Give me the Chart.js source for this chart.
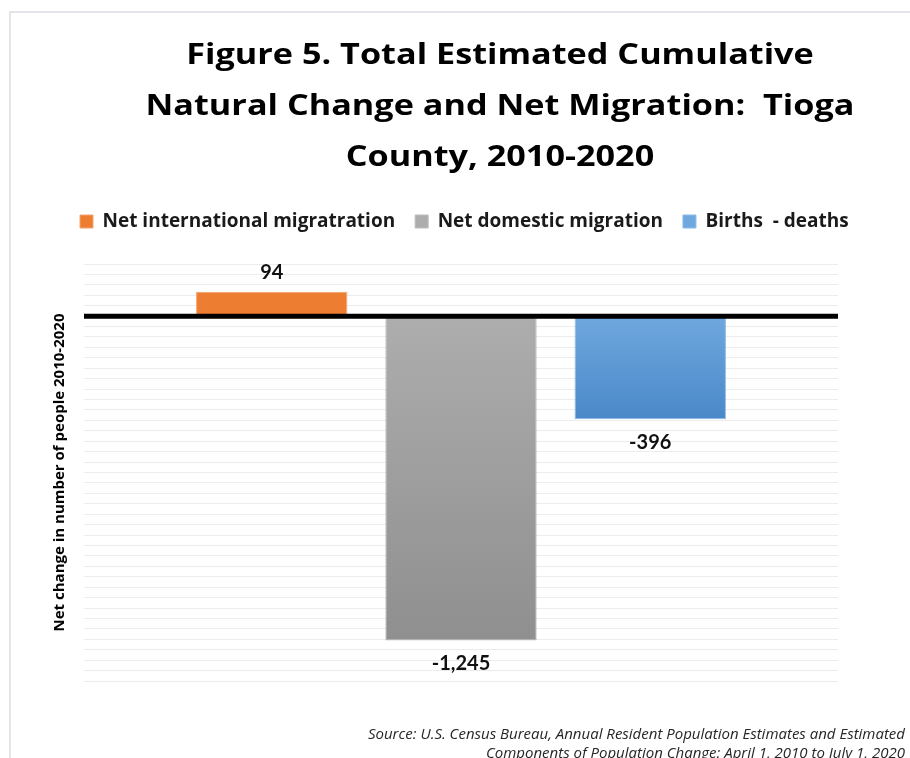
<!DOCTYPE html>
<html>
<head>
<meta charset="utf-8">
<script src="https://cdn.jsdelivr.net/npm/chart.js@4.4.0/dist/chart.umd.min.js"></script>
<style>
html,body{margin:0;padding:0;background:#fff;overflow:hidden}
#wrap{position:relative;width:910px;height:758px}
#frame{position:absolute;left:9px;top:11px;width:1000px;height:1000px;border-left:2px solid #e4e4ea;border-top:2px solid #e4e4ea}
#chart{position:absolute;left:0;top:0}
</style>
</head>
<body>
<div id="wrap"><div id="frame"></div><canvas id="chart"></canvas></div>
<script>
// ── DATA ─────────────────────────────────────────────────
const titleLines = ['Figure 5. Total Estimated Cumulative', 'Natural Change and Net Migration:  Tioga', 'County, 2010-2020'];
const categories = [''];
const seriesNames = ['Net international migratration', 'Net domestic migration', 'Births  - deaths'];
const seriesValues = [94, -1245, -396];
const yTitle = 'Net change in number of people 2010-2020';
const sourceLines = ['Source: U.S. Census Bureau, Annual Resident Population Estimates and Estimated',
                     'Components of Population Change: April 1, 2010 to July 1, 2020'];
const yMin = -1400, yMax = 200, yStep = 40;

const FONT = '"Open Sans", Lato, sans-serif';
const LABEL_FONT = 'Lato, "Open Sans", sans-serif';
const seriesFill = [['#ed7d31','#ed7d31'], ['#adadad','#8f8f8f'], ['#6fa8de','#4a88c9']];
const seriesEdge = ['#f3a472', '#bdbdbd', '#8cbbe8'];

// vertical gradient from the zero line to the bar end
function gradFill(stops){
    return ctx=>{
        const chart = ctx.chart;
        if(ctx.type!=='data' || !chart.chartArea) return stops[0];
        const y = chart.scales.y;
        const y0 = y.getPixelForValue(0), y1 = y.getPixelForValue(ctx.raw);
        const g = chart.ctx.createLinearGradient(0, Math.min(y0,y1), 0, Math.max(y0,y1));
        g.addColorStop(0, stops[0]); g.addColorStop(1, stops[1]);
        return g;
    };
}

// ── PLUGINS ──────────────────────────────────────────────
// figure title (centred on the original, wider, figure frame) + source note
const figText = {
    id:'figText',
    afterDraw(chart){
        const c = chart.ctx;
        c.save();
        c.fillStyle = '#000';
        c.textAlign = 'center'; c.textBaseline = 'alphabetic';
        c.font = 'bold 29px ' + FONT;
        titleLines.forEach((t,i)=>{
            c.save();
            c.translate(500, 64 + i*51);
            c.scale(1.18, 1);   // the original title face is wider than Open Sans
            c.fillText(t, 0, 0);
            c.restore();
        });
        c.fillStyle = '#262626';
        c.textAlign = 'right';
        c.font = 'italic 15px ' + FONT;
        sourceLines.forEach((t,i)=>c.fillText(t, 905, 739 + i*19));
        c.restore();
    }
};

const zeroAndLabels = {
    id:'zeroAndLabels',
    afterDatasetsDraw(chart){
        const c = chart.ctx, a = chart.chartArea, y0 = chart.scales.y.getPixelForValue(0);
        c.save();
        c.strokeStyle = '#000'; c.lineWidth = 5;
        c.beginPath(); c.moveTo(a.left, y0); c.lineTo(a.right, y0); c.stroke();
        c.fillStyle = '#111';
        c.font = 'bold 20px ' + LABEL_FONT;
        c.textAlign = 'center'; c.textBaseline = 'middle';
        chart.data.datasets.forEach((ds,i)=>{
            const el = chart.getDatasetMeta(i).data[0];
            const v = ds.data[0];
            c.fillText(v.toLocaleString('en-US'), el.x, v>=0 ? el.y-19 : el.y+23);
        });
        c.restore();
    }
};

// ── CHART ────────────────────────────────────────────────
const cv = document.getElementById('chart');
cv.width = 910; cv.height = 758;
new Chart(cv, {
    type:'bar',
    data:{
        labels:categories,
        datasets:seriesNames.map((n,i)=>({
            label:n,
            data:[seriesValues[i]],
            backgroundColor:gradFill(seriesFill[i]),
            borderColor:seriesEdge[i],
            borderWidth:1,
            categoryPercentage:0.753,
            barPercentage:0.8
        }))
    },
    options:{
        responsive:false,
        animation:false,
        layout:{padding:{top:192, left:60, right:15, bottom:77}},
        plugins:{
            tooltip:{enabled:false},
            title:{display:false},
            legend:{
                position:'top',
                align:'start',
                labels:{boxWidth:13, boxHeight:13, padding:20, color:'#1a1a1a', font:{family:FONT, size:19, weight:'bold'}}
            }
        },
        scales:{
            x:{
                position:'top',
                ticks:{display:false},
                grid:{display:false},
                border:{display:false},
                afterFit:s=>{s.height=23;}
            },
            y:{
                min:yMin, max:yMax,
                ticks:{display:false, stepSize:yStep},
                grid:{color:'#ececec', lineWidth:1, drawTicks:false},
                border:{display:false},
                title:{display:true, text:yTitle, color:'#000', padding:{top:-9, bottom:0}, font:{family:FONT, size:15, weight:'bold'}},
                afterFit:s=>{s.width=24;}
            },
            // empty right-hand gutter so the plot stops where the original does
            y2:{
                position:'right',
                ticks:{display:false},
                grid:{display:false},
                border:{display:false},
                afterFit:s=>{s.width=57;}
            }
        }
    },
    plugins:[zeroAndLabels, figText]
});
</script>
</body>
</html>
